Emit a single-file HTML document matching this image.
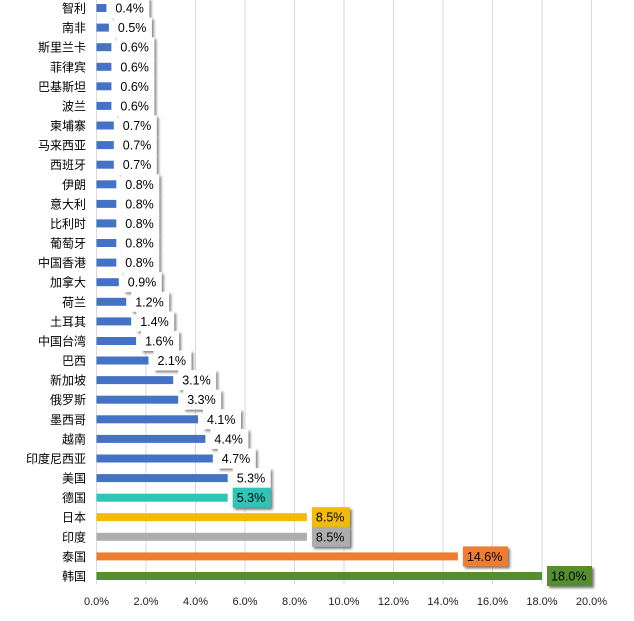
<!DOCTYPE html>
<html><head><meta charset="utf-8"><style>
html,body{margin:0;padding:0;background:#fff;}
svg{display:block;font-family:"Liberation Sans","Noto Sans CJK SC",sans-serif;}
.c{font-size:12px;fill:#000;text-anchor:end;}
.v{font-size:12.5px;fill:#000;}
.t{font-size:11px;fill:#222;text-anchor:middle;}
</style></head><body>
<svg width="634" height="621" viewBox="0 0 634 621">
<defs><filter id="sh" x="-30%" y="-30%" width="160%" height="160%"><feGaussianBlur stdDeviation="1.3"/></filter></defs>
<g stroke="#d9d9d9" stroke-width="1">
<line x1="146" y1="0" x2="146" y2="584"/><line x1="195.5" y1="0" x2="195.5" y2="584"/><line x1="245" y1="0" x2="245" y2="584"/><line x1="294.5" y1="0" x2="294.5" y2="584"/><line x1="344" y1="0" x2="344" y2="584"/><line x1="393.5" y1="0" x2="393.5" y2="584"/><line x1="443" y1="0" x2="443" y2="584"/><line x1="492.5" y1="0" x2="492.5" y2="584"/><line x1="542" y1="0" x2="542" y2="584"/><line x1="591.5" y1="0" x2="591.5" y2="584"/>
<line x1="96.5" y1="0" x2="96.5" y2="584"/>
</g>
<g class="t">
<text x="96.5" y="605">0.0%</text><text x="146" y="605">2.0%</text><text x="195.5" y="605">4.0%</text><text x="245" y="605">6.0%</text><text x="294.5" y="605">8.0%</text><text x="344" y="605">10.0%</text><text x="393.5" y="605">12.0%</text><text x="443" y="605">14.0%</text><text x="492.5" y="605">16.0%</text><text x="542" y="605">18.0%</text><text x="591.5" y="605">20.0%</text>
</g>

<g transform="translate(0,8)"><text class="c" x="86" y="4.5">智利</text><rect x="96.5" y="-4" width="9.9" height="8" fill="#4472c4"/><rect x="113.4" y="-8" width="38" height="20" fill="#888" filter="url(#sh)"/><rect x="111.4" y="-10" width="38" height="20" fill="#fff"/><text class="v" x="115.4" y="4.5">0.4%</text></g>
<g transform="translate(0,27.6)"><text class="c" x="86" y="4.5">南非</text><rect x="96.5" y="-4" width="12.4" height="8" fill="#4472c4"/><rect x="115.9" y="-8" width="38" height="20" fill="#888" filter="url(#sh)"/><rect x="113.9" y="-10" width="38" height="20" fill="#fff"/><text class="v" x="117.9" y="4.5">0.5%</text></g>
<g transform="translate(0,47.2)"><text class="c" x="86" y="4.5">斯里兰卡</text><rect x="96.5" y="-4" width="14.9" height="8" fill="#4472c4"/><rect x="118.4" y="-8" width="38" height="20" fill="#888" filter="url(#sh)"/><rect x="116.4" y="-10" width="38" height="20" fill="#fff"/><text class="v" x="120.4" y="4.5">0.6%</text></g>
<g transform="translate(0,66.8)"><text class="c" x="86" y="4.5">菲律宾</text><rect x="96.5" y="-4" width="14.9" height="8" fill="#4472c4"/><rect x="118.4" y="-8" width="38" height="20" fill="#888" filter="url(#sh)"/><rect x="116.4" y="-10" width="38" height="20" fill="#fff"/><text class="v" x="120.4" y="4.5">0.6%</text></g>
<g transform="translate(0,86.3)"><text class="c" x="86" y="4.5">巴基斯坦</text><rect x="96.5" y="-4" width="14.9" height="8" fill="#4472c4"/><rect x="118.4" y="-8" width="38" height="20" fill="#888" filter="url(#sh)"/><rect x="116.4" y="-10" width="38" height="20" fill="#fff"/><text class="v" x="120.4" y="4.5">0.6%</text></g>
<g transform="translate(0,105.9)"><text class="c" x="86" y="4.5">波兰</text><rect x="96.5" y="-4" width="14.9" height="8" fill="#4472c4"/><rect x="118.4" y="-8" width="38" height="20" fill="#888" filter="url(#sh)"/><rect x="116.4" y="-10" width="38" height="20" fill="#fff"/><text class="v" x="120.4" y="4.5">0.6%</text></g>
<g transform="translate(0,125.5)"><text class="c" x="86" y="4.5">柬埔寨</text><rect x="96.5" y="-4" width="17.3" height="8" fill="#4472c4"/><rect x="120.8" y="-8" width="38" height="20" fill="#888" filter="url(#sh)"/><rect x="118.8" y="-10" width="38" height="20" fill="#fff"/><text class="v" x="122.8" y="4.5">0.7%</text></g>
<g transform="translate(0,145.1)"><text class="c" x="86" y="4.5">马来西亚</text><rect x="96.5" y="-4" width="17.3" height="8" fill="#4472c4"/><rect x="120.8" y="-8" width="38" height="20" fill="#888" filter="url(#sh)"/><rect x="118.8" y="-10" width="38" height="20" fill="#fff"/><text class="v" x="122.8" y="4.5">0.7%</text></g>
<g transform="translate(0,164.7)"><text class="c" x="86" y="4.5">西班牙</text><rect x="96.5" y="-4" width="17.3" height="8" fill="#4472c4"/><rect x="120.8" y="-8" width="38" height="20" fill="#888" filter="url(#sh)"/><rect x="118.8" y="-10" width="38" height="20" fill="#fff"/><text class="v" x="122.8" y="4.5">0.7%</text></g>
<g transform="translate(0,184.3)"><text class="c" x="86" y="4.5">伊朗</text><rect x="96.5" y="-4" width="19.8" height="8" fill="#4472c4"/><rect x="123.3" y="-8" width="38" height="20" fill="#888" filter="url(#sh)"/><rect x="121.3" y="-10" width="38" height="20" fill="#fff"/><text class="v" x="125.3" y="4.5">0.8%</text></g>
<g transform="translate(0,203.9)"><text class="c" x="86" y="4.5">意大利</text><rect x="96.5" y="-4" width="19.8" height="8" fill="#4472c4"/><rect x="123.3" y="-8" width="38" height="20" fill="#888" filter="url(#sh)"/><rect x="121.3" y="-10" width="38" height="20" fill="#fff"/><text class="v" x="125.3" y="4.5">0.8%</text></g>
<g transform="translate(0,223.4)"><text class="c" x="86" y="4.5">比利时</text><rect x="96.5" y="-4" width="19.8" height="8" fill="#4472c4"/><rect x="123.3" y="-8" width="38" height="20" fill="#888" filter="url(#sh)"/><rect x="121.3" y="-10" width="38" height="20" fill="#fff"/><text class="v" x="125.3" y="4.5">0.8%</text></g>
<g transform="translate(0,243.0)"><text class="c" x="86" y="4.5">葡萄牙</text><rect x="96.5" y="-4" width="19.8" height="8" fill="#4472c4"/><rect x="123.3" y="-8" width="38" height="20" fill="#888" filter="url(#sh)"/><rect x="121.3" y="-10" width="38" height="20" fill="#fff"/><text class="v" x="125.3" y="4.5">0.8%</text></g>
<g transform="translate(0,262.6)"><text class="c" x="86" y="4.5">中国香港</text><rect x="96.5" y="-4" width="19.8" height="8" fill="#4472c4"/><rect x="123.3" y="-8" width="38" height="20" fill="#888" filter="url(#sh)"/><rect x="121.3" y="-10" width="38" height="20" fill="#fff"/><text class="v" x="125.3" y="4.5">0.8%</text></g>
<g transform="translate(0,282.2)"><text class="c" x="86" y="4.5">加拿大</text><rect x="96.5" y="-4" width="22.3" height="8" fill="#4472c4"/><rect x="125.8" y="-8" width="38" height="20" fill="#888" filter="url(#sh)"/><rect x="123.8" y="-10" width="38" height="20" fill="#fff"/><text class="v" x="127.8" y="4.5">0.9%</text></g>
<g transform="translate(0,301.8)"><text class="c" x="86" y="4.5">荷兰</text><rect x="96.5" y="-4" width="29.7" height="8" fill="#4472c4"/><rect x="133.2" y="-8" width="38" height="20" fill="#888" filter="url(#sh)"/><rect x="131.2" y="-10" width="38" height="20" fill="#fff"/><text class="v" x="135.2" y="4.5">1.2%</text></g>
<g transform="translate(0,321.4)"><text class="c" x="86" y="4.5">土耳其</text><rect x="96.5" y="-4" width="34.7" height="8" fill="#4472c4"/><rect x="138.2" y="-8" width="38" height="20" fill="#888" filter="url(#sh)"/><rect x="136.2" y="-10" width="38" height="20" fill="#fff"/><text class="v" x="140.2" y="4.5">1.4%</text></g>
<g transform="translate(0,341.0)"><text class="c" x="86" y="4.5">中国台湾</text><rect x="96.5" y="-4" width="39.6" height="8" fill="#4472c4"/><rect x="143.1" y="-8" width="38" height="20" fill="#888" filter="url(#sh)"/><rect x="141.1" y="-10" width="38" height="20" fill="#fff"/><text class="v" x="145.1" y="4.5">1.6%</text></g>
<g transform="translate(0,360.5)"><text class="c" x="86" y="4.5">巴西</text><rect x="96.5" y="-4" width="52" height="8" fill="#4472c4"/><rect x="155.5" y="-8" width="38" height="20" fill="#888" filter="url(#sh)"/><rect x="153.5" y="-10" width="38" height="20" fill="#fff"/><text class="v" x="157.5" y="4.5">2.1%</text></g>
<g transform="translate(0,380.1)"><text class="c" x="86" y="4.5">新加坡</text><rect x="96.5" y="-4" width="76.7" height="8" fill="#4472c4"/><rect x="180.2" y="-8" width="38" height="20" fill="#888" filter="url(#sh)"/><rect x="178.2" y="-10" width="38" height="20" fill="#fff"/><text class="v" x="182.2" y="4.5">3.1%</text></g>
<g transform="translate(0,399.7)"><text class="c" x="86" y="4.5">俄罗斯</text><rect x="96.5" y="-4" width="81.7" height="8" fill="#4472c4"/><rect x="185.2" y="-8" width="38" height="20" fill="#888" filter="url(#sh)"/><rect x="183.2" y="-10" width="38" height="20" fill="#fff"/><text class="v" x="187.2" y="4.5">3.3%</text></g>
<g transform="translate(0,419.3)"><text class="c" x="86" y="4.5">墨西哥</text><rect x="96.5" y="-4" width="101.5" height="8" fill="#4472c4"/><rect x="205" y="-8" width="38" height="20" fill="#888" filter="url(#sh)"/><rect x="203" y="-10" width="38" height="20" fill="#fff"/><text class="v" x="207" y="4.5">4.1%</text></g>
<g transform="translate(0,438.9)"><text class="c" x="86" y="4.5">越南</text><rect x="96.5" y="-4" width="108.9" height="8" fill="#4472c4"/><rect x="212.4" y="-8" width="38" height="20" fill="#888" filter="url(#sh)"/><rect x="210.4" y="-10" width="38" height="20" fill="#fff"/><text class="v" x="214.4" y="4.5">4.4%</text></g>
<g transform="translate(0,458.5)"><text class="c" x="86" y="4.5">印度尼西亚</text><rect x="96.5" y="-4" width="116.3" height="8" fill="#4472c4"/><rect x="219.8" y="-8" width="38" height="20" fill="#888" filter="url(#sh)"/><rect x="217.8" y="-10" width="38" height="20" fill="#fff"/><text class="v" x="221.8" y="4.5">4.7%</text></g>
<g transform="translate(0,478.1)"><text class="c" x="86" y="4.5">美国</text><rect x="96.5" y="-4" width="131.2" height="8" fill="#4472c4"/><rect x="234.7" y="-8" width="38" height="20" fill="#888" filter="url(#sh)"/><rect x="232.7" y="-10" width="38" height="20" fill="#fff"/><text class="v" x="236.7" y="4.5">5.3%</text></g>
<g transform="translate(0,497.7)"><text class="c" x="86" y="4.5">德国</text><rect x="96.5" y="-4" width="131.2" height="8" fill="#2ec4b6"/><rect x="234.7" y="-8" width="38" height="20" fill="#777" filter="url(#sh)"/><rect x="232.7" y="-10" width="38" height="20" fill="#2ec4b6"/><text class="v" x="236.7" y="4.5">5.3%</text></g>
<g transform="translate(0,517.2)"><text class="c" x="86" y="4.5">日本</text><rect x="96.5" y="-4" width="210.4" height="8" fill="#f2bb05"/><rect x="313.9" y="-8" width="38" height="20" fill="#777" filter="url(#sh)"/><rect x="311.9" y="-10" width="38" height="20" fill="#f2bb05"/><text class="v" x="315.9" y="4.5">8.5%</text></g>
<g transform="translate(0,536.8)"><text class="c" x="86" y="4.5">印度</text><rect x="96.5" y="-4" width="210.4" height="8" fill="#adadad"/><rect x="313.9" y="-8" width="38" height="20" fill="#777" filter="url(#sh)"/><rect x="311.9" y="-10" width="38" height="20" fill="#adadad"/><text class="v" x="315.9" y="4.5">8.5%</text></g>
<g transform="translate(0,556.4)"><text class="c" x="86" y="4.5">泰国</text><rect x="96.5" y="-4" width="361.4" height="8" fill="#ed7d31"/><rect x="464.9" y="-8" width="45" height="20" fill="#777" filter="url(#sh)"/><rect x="462.9" y="-10" width="45" height="20" fill="#ed7d31"/><text class="v" x="466.9" y="4.5">14.6%</text></g>
<g transform="translate(0,576.0)"><text class="c" x="86" y="4.5">韩国</text><rect x="96.5" y="-4" width="445.5" height="8" fill="#548e2e"/><rect x="549" y="-8" width="45" height="20" fill="#777" filter="url(#sh)"/><rect x="547" y="-10" width="45" height="20" fill="#548e2e"/><text class="v" x="551" y="4.5">18.0%</text></g>
</svg>
</body></html>
